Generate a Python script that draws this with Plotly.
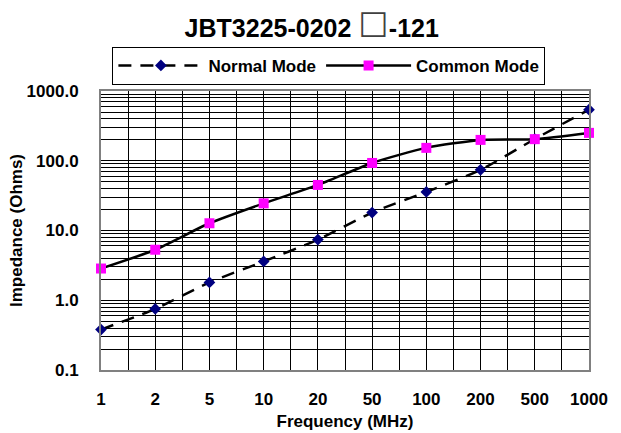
import plotly.graph_objects as go

freq_labels = ["1", "2", "5", "10", "20", "50", "100", "200", "500", "1000"]
normal_mode = [0.38, 0.75, 1.8, 3.6, 7.4, 18.1, 35.7, 74, 205, 540]
common_mode = [2.85, 5.3, 12.7, 24.5, 45, 93, 153, 199, 204, 251]
y_tick_vals = [0.1, 1, 10, 100, 1000]
y_tick_text = ["0.1", "1.0", "10.0", "100.0", "1000.0"]

FONT = "Liberation Sans, Arial, sans-serif"
xs = list(range(len(freq_labels)))
x_minor = [i + 0.5 for i in xs[:-1]]
y_minor = [m * 10 ** e for e in range(-1, 3) for m in range(2, 10)]

fig = go.Figure()
fig.add_trace(go.Scatter(
    x=xs, y=normal_mode, name="Normal Mode", mode="lines+markers",
    line=dict(color="black", width=2.5, dash="13px,9px", shape="spline", smoothing=0.6),
    marker=dict(symbol="diamond", size=9, color="#000080"),
    cliponaxis=False,
))
fig.add_trace(go.Scatter(
    x=xs, y=common_mode, name="Common Mode", mode="lines+markers",
    line=dict(color="black", width=2.5, shape="spline", smoothing=0.6),
    marker=dict(symbol="square", size=10, color="#FF00FF"),
    cliponaxis=False,
))

box = '<span style="font-family:DejaVu Sans;font-weight:normal;font-size:34px;fill:#404040">\u2610</span>'
fig.update_layout(
    width=621, height=433,
    margin=dict(l=101, r=32, t=91, b=63, autoexpand=False),
    paper_bgcolor="white", plot_bgcolor="white",
    font=dict(family=FONT, size=17, color="black", weight="bold"),
    title=dict(text="JBT3225-0202 " + box + "-121", x=0.502, xanchor="center",
               xref="container", yref="container",
               y=0.935, yanchor="middle",
               font=dict(size=25, family=FONT, weight="bold")),
    legend=dict(orientation="h", x=0.467, xanchor="center", y=1.158, yanchor="top",
                bordercolor="black", borderwidth=1, bgcolor="white",
                font=dict(size=17, family=FONT, weight="bold"),
                itemwidth=85, tracegroupgap=0),
    showlegend=True,
)
fig.update_xaxes(
    range=[0, 9], tickmode="array", tickvals=xs, ticktext=freq_labels,
    showgrid=True, gridcolor="black", gridwidth=1, automargin=False,
    minor=dict(tickmode="array", tickvals=x_minor, showgrid=True, gridcolor="black", gridwidth=1),
    showline=True, linecolor="#808080", linewidth=2, mirror=True,
    ticklabelstandoff=13, zeroline=False,
    title=dict(text="Frequency (MHz)", font=dict(size=17, family=FONT, weight="bold"), standoff=7),
)
fig.update_yaxes(
    type="log", range=[-1, 3], tickmode="array", tickvals=y_tick_vals, ticktext=y_tick_text,
    showgrid=True, gridcolor="black", gridwidth=1, automargin=False,
    minor=dict(tickmode="array", tickvals=y_minor, showgrid=True, gridcolor="black", gridwidth=1),
    showline=True, linecolor="#808080", linewidth=2, mirror=True,
    ticklabelstandoff=17, zeroline=False,
    title=dict(text="Impedance (Ohms)", font=dict(size=17, family=FONT, weight="bold"), standoff=0),
)

fig.write_html("out.html", config={"displayModeBar": False},
               post_script="document.body.style.margin='0px';")
